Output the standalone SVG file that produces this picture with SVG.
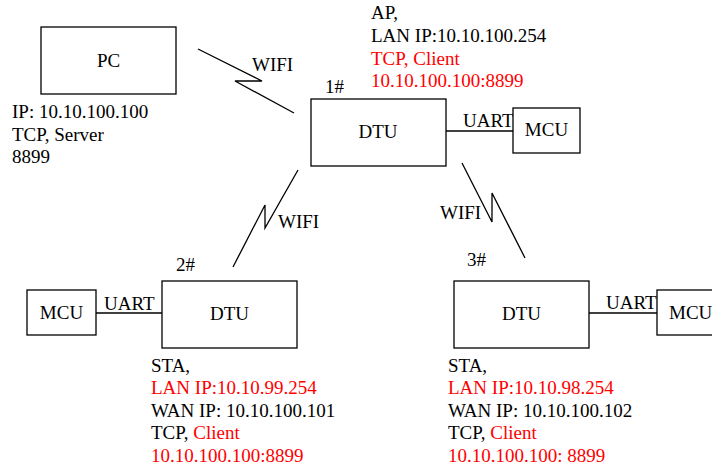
<svg xmlns="http://www.w3.org/2000/svg" width="712" height="468" viewBox="0 0 712 468">
<style>
text{font-family:"Liberation Serif","Times New Roman",serif;font-size:19px;fill:#000}
.r{fill:#ff0000}
.c{text-anchor:middle}
.box{fill:#fff;stroke:#000;stroke-width:1.3}
.ln{fill:none;stroke:#000;stroke-width:1.3}
</style>
<rect width="712" height="468" fill="#fff"/>
<g id="connectors">
<polyline class="ln" points="198,49 262,81 235,81 294,113"/>
<polyline class="ln" points="233,267 265,205 265,228 298,170"/>
<polyline class="ln" points="462,163 492,222 492,193 525,258"/>
<line class="ln" x1="446" y1="131" x2="513" y2="131"/>
<line class="ln" x1="96" y1="313" x2="162" y2="313"/>
<line class="ln" x1="589" y1="313" x2="657" y2="313"/>
<text x="252" y="71">WIFI</text>
<text x="278" y="228">WIFI</text>
<text x="440" y="219">WIFI</text>
<text x="463" y="127">UART</text>
<text x="104" y="310">UART</text>
<text x="606" y="309">UART</text>
</g>
<g id="pc">
<rect class="box" x="41" y="27" width="135" height="67"/>
<text class="c" x="108.5" y="67">PC</text>
<text x="12" y="118">IP: 10.10.100.100</text>
<text x="12" y="140.5">TCP, Server</text>
<text x="12" y="163">8899</text>
</g>
<g id="dtu1">
<rect class="box" x="311" y="99" width="135" height="67"/>
<text class="c" x="378" y="138">DTU</text>
<text x="325" y="93">1#</text>
<text x="371" y="19">AP,</text>
<text x="371" y="42">LAN IP:10.10.100.254</text>
<text class="r" x="371" y="64.5">TCP, Client</text>
<text class="r" x="371" y="87">10.10.100.100:8899</text>
</g>
<g id="mcu1">
<rect class="box" x="513" y="108" width="67" height="45"/>
<text class="c" x="546.5" y="136">MCU</text>
</g>
<g id="dtu2">
<rect class="box" x="162" y="281" width="135" height="67"/>
<text class="c" x="229.5" y="320">DTU</text>
<text x="176" y="271">2#</text>
<text x="151" y="372">STA,</text>
<text class="r" x="151" y="394">LAN IP:10.10.99.254</text>
<text x="151" y="417">WAN IP: 10.10.100.101</text>
<text x="151" y="439">TCP, <tspan class="r">Client</tspan></text>
<text class="r" x="151" y="462">10.10.100.100:8899</text>
</g>
<g id="mcu2">
<rect class="box" x="27" y="290" width="69" height="45"/>
<text class="c" x="61.5" y="319">MCU</text>
</g>
<g id="dtu3">
<rect class="box" x="454" y="281" width="135" height="67"/>
<text class="c" x="521.5" y="320">DTU</text>
<text x="467" y="266">3#</text>
<text x="448" y="372">STA,</text>
<text class="r" x="448" y="394">LAN IP:10.10.98.254</text>
<text x="448" y="417">WAN IP: 10.10.100.102</text>
<text x="448" y="439">TCP, <tspan class="r">Client</tspan></text>
<text class="r" x="448" y="462">10.10.100.100: 8899</text>
</g>
<g id="mcu3">
<rect class="box" x="657" y="290" width="69" height="45"/>
<text x="669" y="319">MCU</text>
</g>
</svg>
